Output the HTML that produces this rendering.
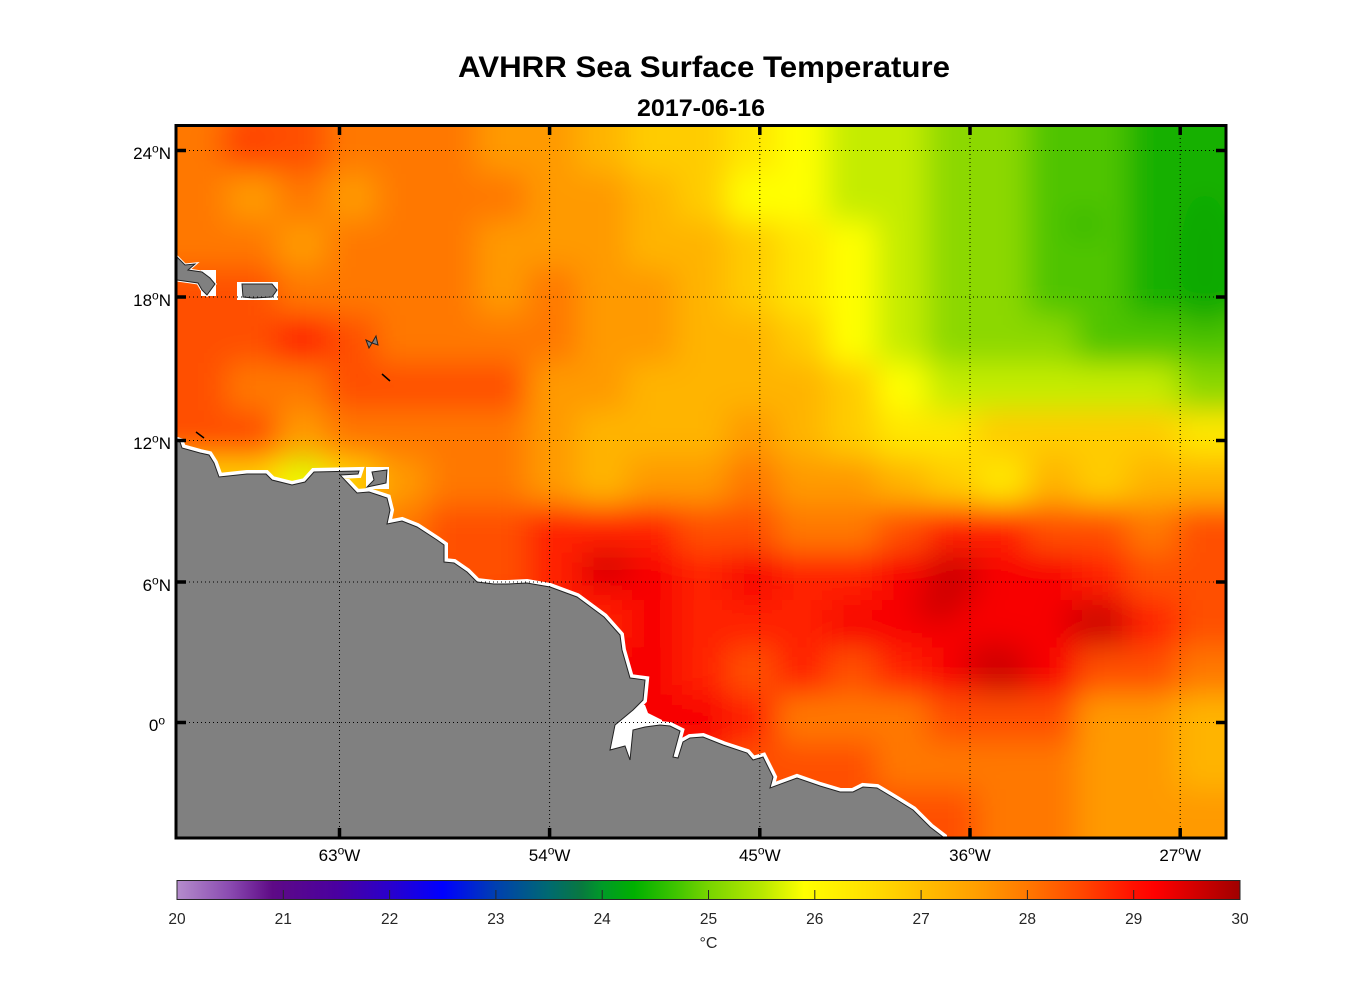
<!DOCTYPE html>
<html><head><meta charset="utf-8"><style>
body{margin:0;background:#fff}
svg{display:block}
.t1{fill:#18b000}.t2{fill:#50c400}.t3{fill:#8cd800}.t4{fill:#c4ec00}.t5{fill:#ffff00}.t6{fill:#ffe600}.t7{fill:#ffcc00}
.t8{fill:#ffb400}.t9{fill:#ff9a00}.t10{fill:#ff7800}.t11{fill:#ff5000}.t12{fill:#ff2400}.t13{fill:#f80000}.t14{fill:#d00000}
</style></head><body>
<svg width="1356" height="1000" viewBox="0 0 1356 1000" font-family="'Liberation Sans', Arial, sans-serif">
<defs>
<clipPath id="mc"><rect x="176" y="125" width="1050" height="713"/></clipPath>
<filter id="bl" filterUnits="userSpaceOnUse" x="0" y="0" width="1356" height="1000"><feGaussianBlur stdDeviation="15"/></filter>
<linearGradient id="cb" x1="0" x2="1" y1="0" y2="0">
<stop offset="0" stop-color="#b48ccc"/><stop offset="0.05" stop-color="#8a4ab0"/><stop offset="0.09" stop-color="#5e0a86"/>
<stop offset="0.15" stop-color="#4a00a0"/><stop offset="0.2" stop-color="#2a00cc"/><stop offset="0.25" stop-color="#0000ff"/>
<stop offset="0.3" stop-color="#0040b0"/><stop offset="0.35" stop-color="#006a70"/><stop offset="0.38" stop-color="#087840"/>
<stop offset="0.4" stop-color="#009a28"/><stop offset="0.43" stop-color="#00b000"/><stop offset="0.47" stop-color="#40c400"/>
<stop offset="0.5" stop-color="#78d400"/><stop offset="0.55" stop-color="#b8e800"/><stop offset="0.59" stop-color="#ffff00"/>
<stop offset="0.65" stop-color="#ffe000"/><stop offset="0.7" stop-color="#ffbf00"/><stop offset="0.75" stop-color="#ffa000"/>
<stop offset="0.8" stop-color="#ff7800"/><stop offset="0.85" stop-color="#ff4800"/><stop offset="0.9" stop-color="#ff1000"/>
<stop offset="0.92" stop-color="#ff0000"/><stop offset="0.96" stop-color="#d00000"/><stop offset="1" stop-color="#a00000"/>
</linearGradient>
</defs>
<rect width="1356" height="1000" fill="#fff"/>

<text x="704" y="77" text-anchor="middle" font-size="30" font-weight="bold" textLength="492" lengthAdjust="spacingAndGlyphs">AVHRR Sea Surface Temperature</text>
<text x="701" y="116" text-anchor="middle" font-size="24" font-weight="bold" textLength="128" lengthAdjust="spacingAndGlyphs">2017-06-16</text>

<g clip-path="url(#mc)">
<g filter="url(#bl)">
<!-- row0 -->
<rect x="110" y="60" width="117" height="114" class="t10"/><rect x="227" y="60" width="100" height="114" class="t11"/><rect x="327" y="60" width="150" height="114" class="t10"/><rect x="477" y="60" width="100" height="114" class="t9"/><rect x="577" y="60" width="50" height="114" class="t8"/><rect x="627" y="60" width="100" height="114" class="t7"/><rect x="727" y="60" width="50" height="114" class="t6"/><rect x="777" y="60" width="50" height="114" class="t5"/><rect x="827" y="60" width="100" height="114" class="t4"/><rect x="927" y="60" width="100" height="114" class="t3"/><rect x="1027" y="60" width="100" height="114" class="t2"/><rect x="1127" y="60" width="173" height="114" class="t1"/>
<!-- row1 -->
<rect x="110" y="173.4" width="117" height="48" class="t10"/><rect x="227" y="173.4" width="50" height="48" class="t9"/><rect x="277" y="173.4" width="50" height="48" class="t10"/><rect x="327" y="173.4" width="50" height="48" class="t9"/><rect x="377" y="173.4" width="150" height="48" class="t10"/><rect x="527" y="173.4" width="100" height="48" class="t9"/><rect x="627" y="173.4" width="50" height="48" class="t8"/><rect x="677" y="173.4" width="50" height="48" class="t7"/><rect x="727" y="173.4" width="100" height="48" class="t5"/><rect x="827" y="173.4" width="100" height="48" class="t4"/><rect x="927" y="173.4" width="100" height="48" class="t3"/><rect x="1027" y="173.4" width="100" height="48" class="t2"/><rect x="1127" y="173.4" width="173" height="48" class="t1"/>
<!-- row2 -->
<rect x="110" y="220.8" width="117" height="48" class="t10"/><rect x="227" y="220.8" width="50" height="48" class="t10"/><rect x="277" y="220.8" width="50" height="48" class="t9"/><rect x="327" y="220.8" width="50" height="48" class="t10"/><rect x="377" y="220.8" width="100" height="48" class="t10"/><rect x="477" y="220.8" width="150" height="48" class="t9"/><rect x="627" y="220.8" width="100" height="48" class="t8"/><rect x="727" y="220.8" width="50" height="48" class="t7"/><rect x="777" y="220.8" width="50" height="48" class="t6"/><rect x="827" y="220.8" width="50" height="48" class="t5"/><rect x="877" y="220.8" width="50" height="48" class="t4"/><rect x="927" y="220.8" width="100" height="48" class="t3"/><rect x="1027" y="220.8" width="100" height="48" class="t2"/><rect x="1127" y="220.8" width="173" height="48" class="t1"/>
<!-- row3 -->
<rect x="110" y="268.2" width="167" height="48" class="t11"/><rect x="277" y="268.2" width="200" height="48" class="t10"/><rect x="477" y="268.2" width="50" height="48" class="t9"/><rect x="527" y="268.2" width="50" height="48" class="t10"/><rect x="577" y="268.2" width="100" height="48" class="t9"/><rect x="677" y="268.2" width="50" height="48" class="t8"/><rect x="727" y="268.2" width="50" height="48" class="t7"/><rect x="777" y="268.2" width="50" height="48" class="t6"/><rect x="827" y="268.2" width="50" height="48" class="t5"/><rect x="877" y="268.2" width="50" height="48" class="t4"/><rect x="927" y="268.2" width="100" height="48" class="t3"/><rect x="1027" y="268.2" width="100" height="48" class="t2"/><rect x="1127" y="268.2" width="173" height="48" class="t1"/>
<!-- row4 -->
<rect x="110" y="315.6" width="167" height="48" class="t11"/><rect x="277" y="315.6" width="50" height="48" class="t12"/><rect x="327" y="315.6" width="50" height="48" class="t11"/><rect x="377" y="315.6" width="200" height="48" class="t10"/><rect x="577" y="315.6" width="100" height="48" class="t9"/><rect x="677" y="315.6" width="100" height="48" class="t8"/><rect x="777" y="315.6" width="50" height="48" class="t7"/><rect x="827" y="315.6" width="50" height="48" class="t5"/><rect x="877" y="315.6" width="50" height="48" class="t4"/><rect x="927" y="315.6" width="150" height="48" class="t3"/><rect x="1077" y="315.6" width="223" height="48" class="t2"/>
<!-- row5 -->
<rect x="110" y="363" width="117" height="48" class="t11"/><rect x="227" y="363" width="100" height="48" class="t10"/><rect x="327" y="363" width="200" height="48" class="t11"/><rect x="527" y="363" width="100" height="48" class="t9"/><rect x="627" y="363" width="200" height="48" class="t8"/><rect x="827" y="363" width="50" height="48" class="t7"/><rect x="877" y="363" width="50" height="48" class="t5"/><rect x="927" y="363" width="250" height="48" class="t4"/><rect x="1177" y="363" width="123" height="48" class="t3"/>
<!-- row6 -->
<rect x="110" y="410.4" width="167" height="48" class="t11"/><rect x="277" y="410.4" width="50" height="48" class="t9"/><rect x="327" y="410.4" width="200" height="48" class="t10"/><rect x="527" y="410.4" width="50" height="48" class="t9"/><rect x="577" y="410.4" width="50" height="48" class="t8"/><rect x="627" y="410.4" width="50" height="48" class="t8"/><rect x="677" y="410.4" width="50" height="48" class="t8"/><rect x="727" y="410.4" width="50" height="48" class="t9"/><rect x="777" y="410.4" width="50" height="48" class="t8"/><rect x="827" y="410.4" width="50" height="48" class="t7"/><rect x="877" y="410.4" width="100" height="48" class="t6"/><rect x="977" y="410.4" width="200" height="48" class="t7"/><rect x="1177" y="410.4" width="123" height="48" class="t6"/>
<!-- row7 -->
<rect x="110" y="457.8" width="167" height="48" class="t7"/><rect x="277" y="457.8" width="50" height="48" class="t5"/><rect x="327" y="457.8" width="50" height="48" class="t7"/><rect x="377" y="457.8" width="50" height="48" class="t9"/><rect x="427" y="457.8" width="100" height="48" class="t10"/><rect x="527" y="457.8" width="50" height="48" class="t9"/><rect x="577" y="457.8" width="50" height="48" class="t8"/><rect x="627" y="457.8" width="100" height="48" class="t9"/><rect x="727" y="457.8" width="50" height="48" class="t10"/><rect x="777" y="457.8" width="100" height="48" class="t9"/><rect x="877" y="457.8" width="50" height="48" class="t8"/><rect x="927" y="457.8" width="50" height="48" class="t7"/><rect x="977" y="457.8" width="50" height="48" class="t6"/><rect x="1027" y="457.8" width="50" height="48" class="t8"/><rect x="1077" y="457.8" width="50" height="48" class="t7"/><rect x="1127" y="457.8" width="173" height="48" class="t8"/>
<!-- row8 -->
<rect x="110" y="505.2" width="267" height="48" class="t9"/><rect x="377" y="505.2" width="50" height="48" class="t10"/><rect x="427" y="505.2" width="100" height="48" class="t11"/><rect x="527" y="505.2" width="150" height="48" class="t12"/><rect x="677" y="505.2" width="100" height="48" class="t11"/><rect x="777" y="505.2" width="100" height="48" class="t10"/><rect x="877" y="505.2" width="50" height="48" class="t11"/><rect x="927" y="505.2" width="100" height="48" class="t12"/><rect x="1027" y="505.2" width="100" height="48" class="t11"/><rect x="1127" y="505.2" width="50" height="48" class="t10"/><rect x="1177" y="505.2" width="123" height="48" class="t11"/>
<!-- row9 -->
<rect x="110" y="552.6" width="417" height="48" class="t11"/><rect x="527" y="552.6" width="50" height="48" class="t12"/><rect x="577" y="552.6" width="100" height="48" class="t13"/><rect x="677" y="552.6" width="50" height="48" class="t12"/><rect x="727" y="552.6" width="50" height="48" class="t13"/><rect x="777" y="552.6" width="100" height="48" class="t12"/><rect x="877" y="552.6" width="50" height="48" class="t13"/><rect x="927" y="552.6" width="50" height="48" class="t14"/><rect x="977" y="552.6" width="100" height="48" class="t13"/><rect x="1077" y="552.6" width="50" height="48" class="t12"/><rect x="1127" y="552.6" width="173" height="48" class="t11"/>
<!-- row10 -->
<rect x="110" y="600" width="367" height="48" class="t11"/><rect x="477" y="600" width="150" height="48" class="t12"/><rect x="627" y="600" width="50" height="48" class="t13"/><rect x="677" y="600" width="150" height="48" class="t12"/><rect x="827" y="600" width="250" height="48" class="t13"/><rect x="1077" y="600" width="50" height="48" class="t14"/><rect x="1127" y="600" width="50" height="48" class="t12"/><rect x="1177" y="600" width="123" height="48" class="t11"/>
<!-- row11 -->
<rect x="110" y="647.4" width="367" height="48" class="t11"/><rect x="477" y="647.4" width="100" height="48" class="t12"/><rect x="577" y="647.4" width="100" height="48" class="t13"/><rect x="677" y="647.4" width="50" height="48" class="t12"/><rect x="727" y="647.4" width="50" height="48" class="t11"/><rect x="777" y="647.4" width="50" height="48" class="t12"/><rect x="827" y="647.4" width="50" height="48" class="t11"/><rect x="877" y="647.4" width="50" height="48" class="t12"/><rect x="927" y="647.4" width="50" height="48" class="t13"/><rect x="977" y="647.4" width="50" height="48" class="t14"/><rect x="1027" y="647.4" width="50" height="48" class="t13"/><rect x="1077" y="647.4" width="100" height="48" class="t11"/><rect x="1177" y="647.4" width="123" height="48" class="t10"/>
<!-- row12 -->
<rect x="110" y="694.8" width="367" height="48" class="t11"/><rect x="477" y="694.8" width="150" height="48" class="t12"/><rect x="627" y="694.8" width="100" height="48" class="t13"/><rect x="727" y="694.8" width="50" height="48" class="t12"/><rect x="777" y="694.8" width="150" height="48" class="t10"/><rect x="927" y="694.8" width="150" height="48" class="t11"/><rect x="1077" y="694.8" width="100" height="48" class="t9"/><rect x="1177" y="694.8" width="123" height="48" class="t8"/>
<!-- row13 -->
<rect x="110" y="742.2" width="367" height="48" class="t11"/><rect x="477" y="742.2" width="250" height="48" class="t12"/><rect x="727" y="742.2" width="150" height="48" class="t11"/><rect x="877" y="742.2" width="200" height="48" class="t10"/><rect x="1077" y="742.2" width="100" height="48" class="t9"/><rect x="1177" y="742.2" width="123" height="48" class="t8"/>
<!-- row14 -->
<rect x="110" y="789.6" width="367" height="111" class="t11"/><rect x="477" y="789.6" width="250" height="111" class="t12"/><rect x="727" y="789.6" width="250" height="111" class="t11"/><rect x="977" y="789.6" width="100" height="111" class="t10"/><rect x="1077" y="789.6" width="223" height="111" class="t9"/>
<!-- accents -->
<ellipse cx="303" cy="468" rx="18" ry="11" fill="#c4ec00"/>
<ellipse cx="244" cy="142" rx="30" ry="12" fill="#ff3c00"/>
<ellipse cx="607" cy="567" rx="25" ry="15" fill="#d00000"/>
<ellipse cx="939" cy="605" rx="25" ry="18" fill="#d00000"/>
<ellipse cx="993" cy="662" rx="30" ry="20" fill="#d00000"/>
<ellipse cx="1087" cy="621" rx="25" ry="18" fill="#d00000"/>
<ellipse cx="1084" cy="224" rx="12" ry="12" fill="#18b000"/>
<ellipse cx="1205" cy="260" rx="25" ry="70" fill="#10a800"/>
</g>

<!-- white fringes -->
<path d="M612,705 L645,705 648,713 662,720 662,726 640,735 632,765 605,760 Z" fill="#fff"/>
<rect x="201" y="270" width="15" height="26" fill="#fff"/>
<rect x="237" y="282" width="41" height="18" fill="#fff"/>
<rect x="366" y="467" width="23" height="22" fill="#fff"/>
<path d="M177,441 L180,442 182,448 200,453 209,455 214,463 219,477 247,474 266,474 272,480 292,485 305,482 314,472 359,471 358,474 340,475 357,493 369,492 387,498 390,510 387,524 402,521 417,527 437,540 444,545 444,562 454,563 467,572 477,582 494,584 507,584 527,583 550,587 577,597 604,617 620,635 622,650 630,678 645,680 643,700 633,710 615,725 610,750 625,746 630,760 633,730 645,727 660,725 670,726 680,731 673,757 678,758 683,742 690,738 703,737 723,745 747,753 753,760 763,757 773,777 770,788 797,778 820,786 840,792 853,792 863,787 877,788 897,800 913,810 930,827 943,837 L943,845 170,845 170,441 Z" fill="none" stroke="#fff" stroke-width="8" stroke-linejoin="miter"/>
<path d="M170,257 L177,257 185,265 195,264 188,270 202,272 210,278 215,284 207,295 202,290 198,283 177,280 170,280 Z" fill="none" stroke="#fff" stroke-width="3"/>

<!-- land -->
<path d="M177,441 L180,442 182,448 200,453 209,455 214,463 219,477 247,474 266,474 272,480 292,485 305,482 314,472 359,471 358,474 340,475 357,493 369,492 387,498 390,510 387,524 402,521 417,527 437,540 444,545 444,562 454,563 467,572 477,582 494,584 507,584 527,583 550,587 577,597 604,617 620,635 622,650 630,678 645,680 643,700 633,710 615,725 610,750 625,746 630,760 633,730 645,727 660,725 670,726 680,731 673,757 678,758 683,742 690,738 703,737 723,745 747,753 753,760 763,757 773,777 770,788 797,778 820,786 840,792 853,792 863,787 877,788 897,800 913,810 930,827 943,837 L943,845 170,845 170,441 Z" fill="#808080" stroke="#222" stroke-width="1"/>
<path d="M170,257 L177,257 185,265 195,264 188,270 202,272 210,278 215,284 207,295 202,290 198,283 177,280 170,280 Z" fill="#808080" stroke="#222" stroke-width="1"/>
<path d="M242,284 L272,284 277,290 272,297 253,298 243,297 Z" fill="#808080" stroke="#222" stroke-width="1"/>
<path d="M372,472 L387,470 386,483 367,487 374,480 Z" fill="#808080" stroke="#222" stroke-width="1"/>
<path d="M366,340 L372,343 376,336 378,345 372,343 369,348 Z" fill="#808080" stroke="#222" stroke-width="1"/>
<line x1="382" y1="374" x2="390" y2="381" stroke="#000" stroke-width="1.5"/>
<line x1="196" y1="432" x2="204" y2="438" stroke="#000" stroke-width="1.5"/>

<!-- grid -->
<g stroke="#000" stroke-width="1" stroke-dasharray="1,3" fill="none">
<line x1="339.5" y1="126" x2="339.5" y2="837"/>
<line x1="549.6" y1="126" x2="549.6" y2="837"/>
<line x1="759.8" y1="126" x2="759.8" y2="837"/>
<line x1="970" y1="126" x2="970" y2="837"/>
<line x1="1180.2" y1="126" x2="1180.2" y2="837"/>
<line x1="177" y1="150.5" x2="1225" y2="150.5"/>
<line x1="177" y1="297" x2="1225" y2="297"/>
<line x1="177" y1="440.5" x2="1225" y2="440.5"/>
<line x1="177" y1="582" x2="1225" y2="582"/>
<line x1="177" y1="722.5" x2="1225" y2="722.5"/>
</g>
</g>

<!-- ticks -->
<g stroke="#000" stroke-width="3.5">
<line x1="177" y1="150.5" x2="186" y2="150.5"/><line x1="177" y1="297" x2="186" y2="297"/><line x1="177" y1="440.5" x2="186" y2="440.5"/><line x1="177" y1="582" x2="186" y2="582"/><line x1="177" y1="722.5" x2="186" y2="722.5"/>
<line x1="1216" y1="150.5" x2="1225" y2="150.5"/><line x1="1216" y1="297" x2="1225" y2="297"/><line x1="1216" y1="440.5" x2="1225" y2="440.5"/><line x1="1216" y1="582" x2="1225" y2="582"/><line x1="1216" y1="722.5" x2="1225" y2="722.5"/>
<line x1="339.5" y1="126" x2="339.5" y2="135"/><line x1="549.6" y1="126" x2="549.6" y2="135"/><line x1="759.8" y1="126" x2="759.8" y2="135"/><line x1="970" y1="126" x2="970" y2="135"/><line x1="1180.2" y1="126" x2="1180.2" y2="135"/>
<line x1="339.5" y1="828" x2="339.5" y2="837"/><line x1="549.6" y1="828" x2="549.6" y2="837"/><line x1="759.8" y1="828" x2="759.8" y2="837"/><line x1="970" y1="828" x2="970" y2="837"/><line x1="1180.2" y1="828" x2="1180.2" y2="837"/>
</g>
<rect x="176" y="125.5" width="1050" height="712.5" fill="none" stroke="#000" stroke-width="3"/>

<!-- axis labels -->
<g font-size="17" fill="#000">
<text x="171" y="159" text-anchor="end">24<tspan font-size="12" dy="-6.6">o</tspan><tspan dy="6.6">N</tspan></text>
<text x="171" y="306" text-anchor="end">18<tspan font-size="12" dy="-6.6">o</tspan><tspan dy="6.6">N</tspan></text>
<text x="171" y="449" text-anchor="end">12<tspan font-size="12" dy="-6.6">o</tspan><tspan dy="6.6">N</tspan></text>
<text x="171" y="591" text-anchor="end">6<tspan font-size="12" dy="-6.6">o</tspan><tspan dy="6.6">N</tspan></text>
<text x="165" y="731" text-anchor="end">0<tspan font-size="12" dy="-6.6">o</tspan></text>
<text x="339.5" y="861" text-anchor="middle">63<tspan font-size="12" dy="-6.6">o</tspan><tspan dy="6.6">W</tspan></text>
<text x="549.6" y="861" text-anchor="middle">54<tspan font-size="12" dy="-6.6">o</tspan><tspan dy="6.6">W</tspan></text>
<text x="759.8" y="861" text-anchor="middle">45<tspan font-size="12" dy="-6.6">o</tspan><tspan dy="6.6">W</tspan></text>
<text x="970" y="861" text-anchor="middle">36<tspan font-size="12" dy="-6.6">o</tspan><tspan dy="6.6">W</tspan></text>
<text x="1180.2" y="861" text-anchor="middle">27<tspan font-size="12" dy="-6.6">o</tspan><tspan dy="6.6">W</tspan></text>
</g>

<!-- colorbar -->
<rect x="177" y="880.5" width="1063" height="19" fill="url(#cb)" stroke="#262626" stroke-width="1"/>
<g stroke="#262626" stroke-width="1">
<line x1="283.3" y1="890" x2="283.3" y2="899.5"/><line x1="389.6" y1="890" x2="389.6" y2="899.5"/><line x1="495.9" y1="890" x2="495.9" y2="899.5"/><line x1="602.2" y1="890" x2="602.2" y2="899.5"/><line x1="708.5" y1="890" x2="708.5" y2="899.5"/><line x1="814.8" y1="890" x2="814.8" y2="899.5"/><line x1="921.1" y1="890" x2="921.1" y2="899.5"/><line x1="1027.4" y1="890" x2="1027.4" y2="899.5"/><line x1="1133.7" y1="890" x2="1133.7" y2="899.5"/>
</g>
<g font-size="15.5" fill="#262626" text-anchor="middle">
<text x="177" y="924">20</text><text x="283.3" y="924">21</text><text x="389.6" y="924">22</text><text x="495.9" y="924">23</text><text x="602.2" y="924">24</text><text x="708.5" y="924">25</text><text x="814.8" y="924">26</text><text x="921.1" y="924">27</text><text x="1027.4" y="924">28</text><text x="1133.7" y="924">29</text><text x="1240" y="924">30</text>
<text x="708.5" y="948" font-size="16">°C</text>
</g>
</svg>
</body></html>
